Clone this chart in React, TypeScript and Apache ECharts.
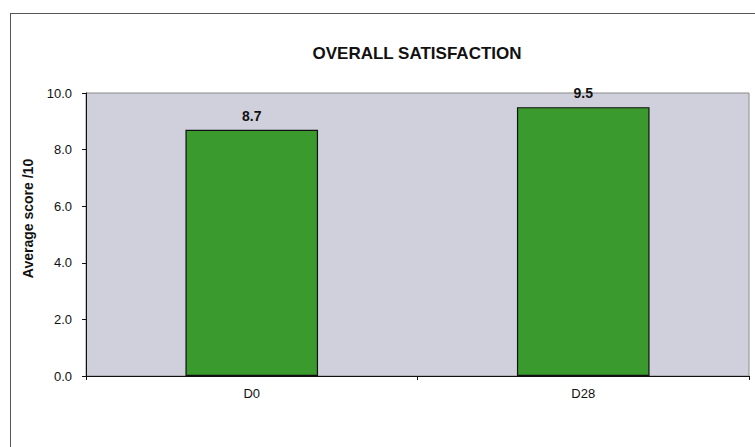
import React, { useEffect, useRef } from "react";
import * as echarts from "echarts";

const categories = ["D0", "D28"];
const values = [8.7, 9.5];
const yTicks = { min: 0, max: 10, interval: 2 };
const titleText = "OVERALL SATISFACTION";
const yAxisName = "Average score /10";

export default function App() {
  const ref = useRef<HTMLDivElement>(null);
  useEffect(() => {
    if (!ref.current) return;
    const chart = echarts.init(ref.current, undefined, { renderer: "svg" });
    const font = "Arial, 'Liberation Sans', sans-serif";
    chart.setOption({
      animation: false,
      backgroundColor: "#ffffff",
      textStyle: { fontFamily: font },
      title: {
        text: titleText,
        left: 412,
        top: 40,
        textAlign: "center",
        textStyle: { fontSize: 17, fontWeight: "bold", color: "#111", fontFamily: font },
      },
      grid: {
        left: 86,
        right: 6,
        top: 93,
        bottom: 71,
        show: true,
        backgroundColor: "#cfd0dc",
        borderColor: "#8a8a8a",
        borderWidth: 1,
      },
      xAxis: {
        type: "category",
        data: categories,
        axisLine: { lineStyle: { color: "#111", width: 1 } },
        axisTick: { show: true, length: 4, alignWithLabel: false, lineStyle: { color: "#111" } },
        axisLabel: { color: "#111", fontSize: 13, margin: 11, fontFamily: font },
      },
      yAxis: {
        type: "value",
        min: yTicks.min,
        max: yTicks.max,
        interval: yTicks.interval,
        name: yAxisName,
        nameLocation: "middle",
        nameGap: 51,
        nameTextStyle: {
          fontSize: 14,
          fontWeight: "bold",
          color: "#111",
          fontFamily: font,
          padding: [0, 0, 0, 32],
        },
        axisLine: { show: true, lineStyle: { color: "#111", width: 1 } },
        axisTick: { show: true, length: 4, lineStyle: { color: "#111" } },
        axisLabel: {
          color: "#111",
          fontSize: 13,
          margin: 14,
          fontFamily: font,
          formatter: (v: number) => v.toFixed(1),
        },
        splitLine: { show: false },
      },
      series: [
        {
          type: "bar",
          data: values,
          barWidth: "40%",
          itemStyle: { color: "#3a9a2e", borderColor: "#111", borderWidth: 1.2 },
          label: {
            show: true,
            position: "top",
            distance: 7,
            fontSize: 14,
            fontWeight: "bold",
            color: "#111",
            fontFamily: font,
            formatter: (p: any) => Number(p.value).toFixed(1),
          },
        },
      ],
      graphic: [
        {
          type: "line",
          shape: { x1: 10, y1: 13.5, x2: 755, y2: 13.5 },
          style: { stroke: "#555", lineWidth: 1 },
        },
        {
          type: "line",
          shape: { x1: 10.5, y1: 13, x2: 10.5, y2: 447 },
          style: { stroke: "#555", lineWidth: 1 },
        },
      ],
    });
    return () => chart.dispose();
  }, []);
  return (
    <div
      ref={ref}
      style={{ position: "fixed", left: 0, top: 0, width: 755, height: 447 }}
    />
  );
}
